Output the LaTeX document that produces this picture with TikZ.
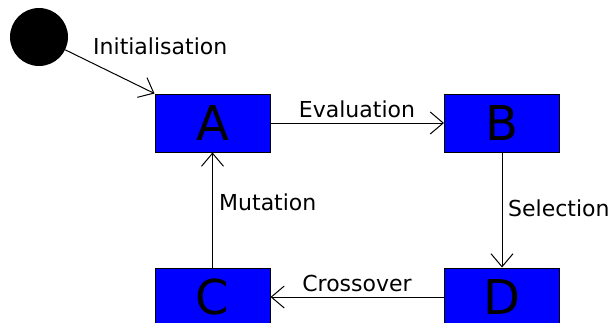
\documentclass[tikz,border=0pt]{standalone}
\usepackage{fontspec}
\setmainfont{DejaVu Sans}
\usetikzlibrary{arrows.meta}
\begin{document}
\begin{tikzpicture}[x=1pt,y=1pt,
  box/.style={draw=black,line width=1pt,fill={rgb,255:red,0;green,0;blue,255},minimum width=115pt,minimum height=58pt,inner sep=0pt,font=\fontsize{48}{56}\selectfont},
  lbl/.style={font=\fontsize{22}{26}\selectfont,inner sep=0pt},
  conn/.style={line width=1pt,-{Straight Barb[length=13pt,width=22pt,line width=1pt]}}]
\useasboundingbox (0,0) rectangle (614,-322);
\node[circle,fill=black,minimum size=58pt,inner sep=0pt] (start) at (39,-37) {};
\node[box] (A) at (212.5,-123) {A};
\node[box] (B) at (502,-123) {B};
\node[box] (C) at (212.5,-297) {C};
\node[box] (D) at (502,-297) {D};
\draw[conn] (start) -- (A.north west);
\draw[conn] (A) -- (B);
\draw[conn] (B) -- (D);
\draw[conn] (D) -- (C);
\draw[conn] (C) -- (A);
\node[lbl,anchor=west] (li) at (93,-46) {Initialisation};
\node[lbl] (le) at (357,-109) {Evaluation};
\node[lbl,anchor=west] (ls) at (508,-208) {Selection};
\node[lbl] (lc) at (357,-283) {Crossover};
\node[lbl,anchor=west] (lm) at (219,-202) {Mutation};
\end{tikzpicture}
\end{document}
